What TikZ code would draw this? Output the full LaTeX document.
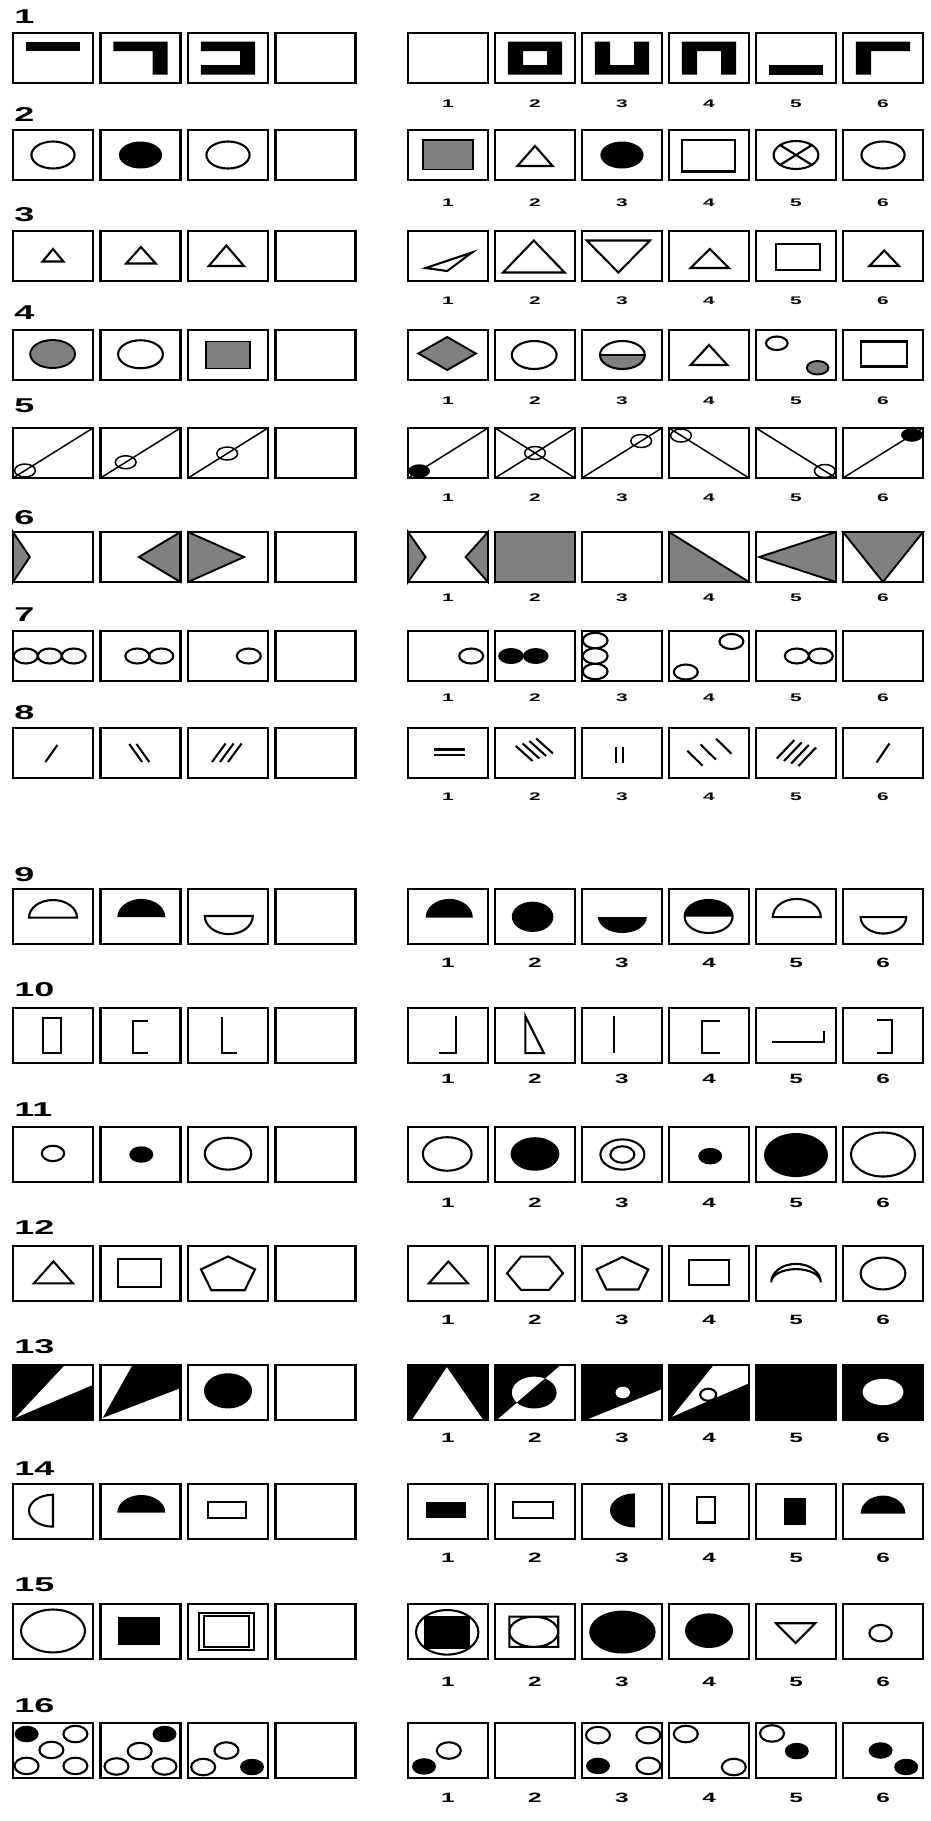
\documentclass[tikz,border=0pt]{standalone}
\usepackage{fontspec}
\setmainfont{Liberation Sans}
%one given box (column 1-4) and one answer box (column 1-6)
\newcommand{\gbox}[2]{%
  \begin{scope}[shift={({13+87.5*(#1-1)},\rowtop)},x=8pt,y=\rowunit]
    #2
    \draw[cellframe] (0,0) rectangle (10,10);
  \end{scope}}
\newcommand{\abox}[2]{%
  \begin{scope}[shift={({408+87*(#1-1)},\rowtop)},x=8pt,y=\rowunit]
    #2
    \draw[cellframe] (0,0) rectangle (10,10);
  \end{scope}}
\newcommand{\numrow}[3]{%
  \foreach \j in {1,...,6}
    \node[#3] (n#1-\j) at ({448+87*(\j-1)},#2) {\j};}
\begin{document}
\begin{tikzpicture}
    [x=1pt,y=-1pt,
     cellframe/.style={line width=2.5pt},
     outl/.style={line width=2.1pt},
     thn/.style={line width=1.5pt},
     gry/.style={fill=black!50,draw,line width=1.9pt},
     rowlab/.style={font=\bfseries\fontsize{20}{20}\selectfont,inner sep=0pt,anchor=west,xscale=1.8},
     num/.style={font=\bfseries\fontsize{11}{11}\selectfont,inner sep=0pt,xscale=1.9},
     numlow/.style={font=\bfseries\fontsize{13.5}{14}\selectfont,inner sep=0pt,xscale=1.8}]
    \useasboundingbox (0,0) rectangle (931,1821);
    %row 1
    \def\rowtop{33}\def\rowunit{-5pt}
    \node[rowlab] (r1) at (14,17) {1};
    \gbox{1}{\fill (1.6,1.7) rectangle (8.4,3.6);}
    \gbox{2}{\fill (1.6,1.7) -- (8.4,1.7) -- (8.4,8.3) -- (6.5,8.3) -- (6.5,3.6) -- (1.6,3.6) -- cycle;}
    \gbox{3}{\fill (1.6,1.7) -- (8.4,1.7) -- (8.4,8.3) -- (1.6,8.3) -- (1.6,6.4) -- (6.5,6.4) -- (6.5,3.6) -- (1.6,3.6) -- cycle;}
    \gbox{4}{}
    \abox{1}{}
    \abox{2}{\fill[even odd rule] (1.6,1.7) rectangle (8.4,8.3) (3.5,3.6) rectangle (6.5,6.4);}
    \abox{3}{\fill (1.6,1.7) -- (3.5,1.7) -- (3.5,6.4) -- (6.5,6.4) -- (6.5,1.7) -- (8.4,1.7) -- (8.4,8.3) -- (1.6,8.3) -- cycle;}
    \abox{4}{\fill (1.6,8.3) -- (1.6,1.7) -- (8.4,1.7) -- (8.4,8.3) -- (6.5,8.3) -- (6.5,3.6) -- (3.5,3.6) -- (3.5,8.3) -- cycle;}
    \abox{5}{\fill (1.6,6.4) rectangle (8.4,8.3);}
    \abox{6}{\fill (1.6,8.3) -- (1.6,1.7) -- (8.4,1.7) -- (8.4,3.6) -- (3.5,3.6) -- (3.5,8.3) -- cycle;}
    \numrow{1}{104}{num}
    %row 2
    \def\rowtop{130}
    \node[rowlab] (r2) at (14,115) {2};
    \gbox{1}{\draw[outl] (5,5) circle (2.7);}
    \gbox{2}{\fill (5,5) circle (2.7);}
    \gbox{3}{\draw[outl] (5,5) circle (2.7);}
    \gbox{4}{}
    \abox{1}{\filldraw[gry] (1.9,2) rectangle (8.1,7.9);}
    \abox{2}{\draw[outl] (2.8,7.2) -- (5,3.2) -- (7.2,7.2) -- cycle;}
    \abox{3}{\fill (5,5) circle (2.7);}
    \abox{4}{\draw[outl] (1.6,2) rectangle (8.3,8.3);}
    \abox{5}{\draw[outl] (5,5) circle (2.8) (3.02,3.02) -- (6.98,6.98) (3.02,6.98) -- (6.98,3.02);}
    \abox{6}{\draw[outl] (5,5) circle (2.7);}
    \numrow{2}{203}{num}
    %row 3
    \def\rowtop{231}
    \node[rowlab] (r3) at (14,215) {3};
    \gbox{1}{\draw[outl] (3.7,6.1) -- (5,3.6) -- (6.3,6.1) -- cycle;}
    \gbox{2}{\draw[outl] (3.2,6.5) -- (5.05,3.2) -- (6.9,6.5) -- cycle;}
    \gbox{3}{\draw[outl] (2.6,7) -- (4.8,2.9) -- (7,7) -- cycle;}
    \gbox{4}{}
    \abox{1}{\draw[outl] (2.2,7.4) -- (8,4.3) -- (4.9,8) -- cycle;}
    \abox{2}{\draw[outl] (1,8.3) -- (4.85,1.9) -- (8.7,8.3) -- cycle;}
    \abox{3}{\draw[outl] (0.6,1.9) -- (8.5,1.9) -- (4.55,8.3) -- cycle;}
    \abox{4}{\draw[outl] (2.7,7.4) -- (5.1,3.6) -- (7.5,7.4) -- cycle;}
    \abox{5}{\draw[outl] (2.5,2.6) rectangle (8,7.8);}
    \abox{6}{\draw[outl] (3.3,7) -- (5.15,3.9) -- (7,7) -- cycle;}
    \numrow{3}{301}{num}
    %row 4
    \def\rowtop{330}
    \node[rowlab] (r4) at (14,313) {4};
    \gbox{1}{\filldraw[gry] (4.95,4.8) circle (2.8);}
    \gbox{2}{\draw[outl] (5,4.85) circle (2.8);}
    \gbox{3}{\filldraw[gry] (2.2,2.3) rectangle (7.8,7.7);}
    \gbox{4}{}
    \abox{1}{\filldraw[gry] (1.3,4.7) -- (4.9,1.4) -- (8.5,4.7) -- (4.9,8) -- cycle;}
    \abox{2}{\draw[outl] (4.9,5) circle (2.8);}
    \abox{3}{\fill[black!50] (2.25,5) arc[start angle=180,end angle=0,radius=2.8] -- cycle;
      \draw[outl] (5.05,5) circle (2.8); \draw[line width=2.4pt] (2.25,5) -- (7.85,5);}
    \abox{4}{\draw[outl] (2.7,7) -- (5,3) -- (7.3,7) -- cycle;}
    \abox{5}{\draw[outl] (2.6,2.65) circle (1.35); \filldraw[gry] (7.7,7.55) circle (1.35);}
    \abox{6}{\draw[outl] (2.2,2.3) rectangle (8,7.3);}
    \numrow{4}{401}{num}
    %row 5
    \def\rowtop{428}
    \node[rowlab] (r5) at (14,406) {5};
    \gbox{1}{\draw[thn] (0,10) -- (10,0) (1.5,8.5) circle (1.3);}
    \gbox{2}{\draw[thn] (0,10) -- (10,0) (3.15,6.85) circle (1.3);}
    \gbox{3}{\draw[thn] (0,10) -- (10,0) (4.9,5.1) circle (1.3);}
    \gbox{4}{}
    \abox{1}{\draw[thn] (0,10) -- (10,0); \fill (1.4,8.6) circle (1.35);}
    \abox{2}{\draw[thn] (0,10) -- (10,0) (0,0) -- (10,10) (5,5) circle (1.3);}
    \abox{3}{\draw[thn] (0,10) -- (10,0) (7.4,2.6) circle (1.3);}
    \abox{4}{\draw[thn] (0,0) -- (10,10) (1.5,1.5) circle (1.3);}
    \abox{5}{\draw[thn] (0,0) -- (10,10) (8.6,8.6) circle (1.3);}
    \abox{6}{\draw[thn] (0,10) -- (10,0); \fill (8.6,1.4) circle (1.35);}
    \numrow{5}{498}{num}
    %row 6
    \def\rowtop{532}
    \node[rowlab] (r6) at (14,518) {6};
    \gbox{1}{\filldraw[gry] (0,0) -- (2.1,5) -- (0,10) -- cycle;}
    \gbox{2}{\filldraw[gry] (10,0) -- (4.8,5) -- (10,10) -- cycle;}
    \gbox{3}{\filldraw[gry] (0,0) -- (7,5) -- (0,10) -- cycle;}
    \gbox{4}{}
    \abox{1}{\filldraw[gry] (0,0) -- (2.2,5) -- (0,10) -- cycle (10,0) -- (7.2,5) -- (10,10) -- cycle;}
    \abox{2}{\filldraw[gry] (0,0) rectangle (10,10);}
    \abox{3}{}
    \abox{4}{\filldraw[gry] (0,0) -- (10,10) -- (0,10) -- cycle;}
    \abox{5}{\filldraw[gry] (10,0) -- (0.4,5) -- (10,10) -- cycle;}
    \abox{6}{\filldraw[gry] (0,0) -- (10,0) -- (5,10) -- cycle;}
    \numrow{6}{598}{num}
    %row 7
    \def\rowtop{631}
    \node[rowlab] (r7) at (14,615) {7};
    \gbox{1}{\draw[outl] (1.6,5) circle (1.5) (4.6,5) circle (1.5) (7.6,5) circle (1.5);}
    \gbox{2}{\draw[outl] (4.6,5) circle (1.5) (7.6,5) circle (1.5);}
    \gbox{3}{\draw[outl] (7.6,5) circle (1.5);}
    \gbox{4}{}
    \abox{1}{\draw[outl] (7.9,5) circle (1.5);}
    \abox{2}{\fill (2,5) circle (1.6) (5.1,5) circle (1.6);}
    \abox{3}{\draw[outl] (1.65,1.9) circle (1.55) (1.65,5) circle (1.55) (1.65,8.1) circle (1.55);}
    \abox{4}{\draw[outl] (7.8,2.1) circle (1.5) (2.1,8.2) circle (1.5);}
    \abox{5}{\draw[outl] (5.1,5) circle (1.5) (8.1,5) circle (1.5);}
    \abox{6}{}
    \numrow{7}{698}{num}
    %row 8
    \def\rowtop{728}
    \node[rowlab] (r8) at (14,713) {8};
    \gbox{1}{\draw[outl] (4.05,6.8) -- (5.55,3.4);}
    \gbox{2}{\draw[outl] (3.6,3.2) -- (5.2,6.8) (4.5,3.2) -- (6.1,6.8);}
    \gbox{3}{\draw[outl] (3,6.8) -- (4.7,3.1) (4,6.8) -- (5.7,3.1) (5,6.8) -- (6.7,3.1);}
    \gbox{4}{}
    \abox{1}{\draw[outl] (3.2,4.3) -- (7.1,4.3) (3.2,5.4) -- (7.1,5.4);}
    \abox{2}{\foreach \k in {0,...,3} \draw[outl] ({2.6+0.85*\k},{3.6-0.5*\k}) -- ++(2.1,3);}
    \abox{3}{\draw[outl] (4.3,3.8) -- (4.3,6.9) (5.15,3.8) -- (5.15,6.9);}
    \abox{4}{\draw[outl] (2.3,4.55) -- ++(1.9,3) (3.95,3.3) -- ++(1.9,3) (5.9,2.15) -- ++(1.9,3);}
    \abox{5}{\foreach \k in {0,...,3} \draw[outl] ({2.6+0.9*\k},{6.1+0.5*\k}) -- ++(2.2,-3.7);}
    \abox{6}{\draw[outl] (4.2,6.9) -- (5.8,3.1);}
    \numrow{8}{797}{num}
    %row 9
    \def\rowtop{889}\def\rowunit{-5.5pt}
    \node[rowlab] (r9) at (14,875) {9};
    \gbox{1}{\draw[outl] (2,5.2) arc[start angle=180,end angle=360,x radius=3,y radius=3.2] -- cycle;}
    \gbox{2}{\fill (2.1,5.1) arc[start angle=180,end angle=360,x radius=3,y radius=3.3] -- cycle;}
    \gbox{3}{\draw[outl] (2.1,4.9) arc[start angle=180,end angle=0,x radius=3,y radius=3.3] -- cycle;}
    \gbox{4}{}
    \abox{1}{\fill (2.2,5.2) arc[start angle=180,end angle=360,x radius=2.95,y radius=3.4] -- cycle;}
    \abox{2}{\fill (4.7,5.05) circle[x radius=2.6,y radius=2.75];}
    \abox{3}{\fill (2,5.1) arc[start angle=180,end angle=0,x radius=3.05,y radius=2.9] -- cycle;}
    \abox{4}{\fill (1.95,5) arc[start angle=180,end angle=360,radius=3] -- cycle; \draw[outl] (4.95,5) circle (3);}
    \abox{5}{\draw[outl] (2.1,5.1) arc[start angle=180,end angle=360,x radius=3,y radius=3.3] -- cycle;}
    \abox{6}{\draw[outl] (2.2,5.1) arc[start angle=180,end angle=0,x radius=2.85,y radius=3] -- cycle;}
    \numrow{9}{963}{numlow}
    %row 10
    \def\rowtop{1008}
    \node[rowlab] (r10) at (14,990) {10};
    \gbox{1}{\draw[outl] (3.8,1.8) rectangle (6,8.2);}
    \gbox{2}{\draw[outl] (5.9,2.4) -- (4.1,2.4) -- (4.1,8.2) -- (5.9,8.2);}
    \gbox{3}{\draw[outl] (4.2,1.6) -- (4.2,8.2) -- (6.1,8.2);}
    \gbox{4}{}
    \abox{1}{\draw[outl] (6,1.5) -- (6,8.2) -- (3.9,8.2);}
    \abox{2}{\draw[outl] (3.8,1.5) -- (3.8,8.2) -- (6.1,8.2) -- cycle;}
    \abox{3}{\draw[outl] (4,1.5) -- (4,8.2);}
    \abox{4}{\draw[outl] (6.4,2.4) -- (4.1,2.4) -- (4.1,8.2) -- (6.4,8.2);}
    \abox{5}{\draw[outl] (2,6.1) -- (8.5,6.1) -- (8.5,4.2);}
    \abox{6}{\draw[outl] (4.2,2.1) -- (6.1,2.1) -- (6.1,8.2) -- (4.2,8.2);}
    \numrow{10}{1079}{numlow}
    %row 11
    \def\rowtop{1127}
    \node[rowlab] (r11) at (14,1110) {11};
    \gbox{1}{\draw[outl] (5,4.8) circle (1.4);}
    \gbox{2}{\fill (5.1,5) circle (1.5);}
    \gbox{3}{\draw[outl] (5,4.85) circle (2.9);}
    \gbox{4}{}
    \abox{1}{\draw[outl] (4.9,4.9) circle (3.05);}
    \abox{2}{\fill (5,4.9) circle (3.05);}
    \abox{3}{\draw[outl] (5.05,5) circle (2.75) (5.05,5) circle (1.5);}
    \abox{4}{\fill (5.15,5.3) circle (1.5);}
    \abox{5}{\fill (5,5.1) circle (4);}
    \abox{6}{\draw[outl] (5,5) circle (4);}
    \numrow{11}{1203}{numlow}
    %row 12
    \def\rowtop{1246}
    \node[rowlab] (r12) at (14,1228) {12};
    \gbox{1}{\draw[outl] (2.6,6.8) -- (5.05,2.8) -- (7.5,6.8) -- cycle;}
    \gbox{2}{\draw[outl] (2.2,2.4) rectangle (7.6,7.4);}
    \gbox{3}{\draw[outl,shift={(5,5.3)}] (-90:3.55 and 3.4) -- (-18:3.55 and 3.4) -- (54:3.55 and 3.4) -- (126:3.55 and 3.4) -- (198:3.55 and 3.4) -- cycle;}
    \gbox{4}{}
    \abox{1}{\draw[outl] (2.6,6.8) -- (5.05,2.8) -- (7.5,6.8) -- cycle;}
    \abox{2}{\draw[outl,shift={(5,4.95)}] (0:3.5 and 3.5) -- (60:3.5 and 3.5) -- (120:3.5 and 3.5) -- (180:3.5 and 3.5) -- (240:3.5 and 3.5) -- (300:3.5 and 3.5) -- cycle;}
    \abox{3}{\draw[outl,shift={(5.05,5.26)}] (-90:3.4 and 3.26) -- (-18:3.4 and 3.26) -- (54:3.4 and 3.26) -- (126:3.4 and 3.26) -- (198:3.4 and 3.26) -- cycle;}
    \abox{4}{\draw[outl] (2.5,2.6) rectangle (7.5,7.1);}
    \abox{5}{\draw[outl] (1.9,6.6) arc[start angle=180,end angle=360,x radius=3.1,y radius=3.35] arc[start angle=0,end angle=-180,x radius=3.1,y radius=2.4] -- cycle;}
    \abox{6}{\draw[outl] (5,5) circle[x radius=2.8,y radius=2.9];}
    \numrow{12}{1320}{numlow}
    %row 13
    \def\rowtop{1365}
    \node[rowlab] (r13) at (14,1347) {13};
    \gbox{1}{\fill (0,0) rectangle (10,10); \fill[white] (0.3,9.6) -- (6.5,0) -- (10,0) -- (10,3.6) -- cycle;}
    \gbox{2}{\fill (0.3,9.6) -- (4,0) -- (10,0) -- (10,4.2) -- cycle;}
    \gbox{3}{\fill (5,4.7) circle[x radius=3,y radius=3.2];}
    \gbox{4}{}
    \abox{1}{\fill (0,0) rectangle (10,10); \fill[white] (4.85,0.4) -- (9.4,10) -- (0.5,10) -- cycle;}
    \abox{2}{\fill[even odd rule] (0,0) -- (8.2,0) -- (0.2,10) -- (0,10) -- cycle (4.9,5) circle[x radius=2.8,y radius=2.9];}
    \abox{3}{\fill (0,0) rectangle (10,10); \fill[white] (0.5,10) -- (10,4.4) -- (10,10) -- cycle (5.1,5) circle[x radius=0.9,y radius=1.05];}
    \abox{4}{\fill (0,0) rectangle (10,10); \fill[white] (0.4,9.4) -- (5.6,0) -- (10,0) -- (10,3.3) -- cycle;
      \filldraw[fill=white,outl] (4.9,5.4) circle[x radius=1,y radius=1.1];}
    \abox{5}{\fill (0,0) rectangle (10,10);}
    \abox{6}{\fill (0,0) rectangle (10,10); \fill[white] (5,4.9) circle[x radius=2.55,y radius=2.4];}
    \numrow{13}{1438}{numlow}
    %row 14
    \def\rowtop{1484}
    \node[rowlab] (r14) at (14,1469) {14};
    \gbox{1}{\draw[outl] (5,1.95) arc[start angle=270,end angle=90,x radius=3,y radius=2.9] -- cycle;}
    \gbox{2}{\fill (2.1,5.2) arc[start angle=180,end angle=360,x radius=3,y radius=3.2] -- cycle;}
    \gbox{3}{\draw[outl] (2.5,3.3) rectangle (7.2,6.1);}
    \gbox{4}{}
    \abox{1}{\fill (2.3,3.2) rectangle (7.3,6.1);}
    \abox{2}{\draw[outl] (2.3,3.3) rectangle (7.2,6.1);}
    \abox{3}{\fill (6.6,1.7) arc[start angle=270,end angle=90,x radius=3.1,y radius=3.1] -- cycle;}
    \abox{4}{\draw[outl] (3.5,2.4) rectangle (5.8,7);}
    \abox{5}{\fill (3.5,2.6) rectangle (6.3,7.4);}
    \abox{6}{\fill (2.2,5.4) arc[start angle=180,end angle=360,x radius=2.8,y radius=3.3] -- cycle;}
    \numrow{14}{1558}{numlow}
    %row 15
    \def\rowtop{1604}
    \node[rowlab] (r15) at (14,1585) {15};
    \gbox{1}{\draw[outl] (5,4.9) circle[x radius=4,y radius=3.9];}
    \gbox{2}{\fill (2.2,2.3) rectangle (7.4,7.4);}
    \gbox{3}{\draw[outl] (1.4,1.6) rectangle (8.2,8.4) (2,2.2) rectangle (7.6,7.8);}
    \gbox{4}{}
    \abox{1}{\draw[outl] (4.9,5.15) circle[x radius=3.9,y radius=4.05]; \fill (2,2.15) rectangle (7.8,8.15);}
    \abox{2}{\draw[outl] (1.8,2.3) rectangle (7.9,7.8) (4.85,5.05) circle[x radius=3.05,y radius=2.75];}
    \abox{3}{\fill (5.05,5.1) circle[x radius=4.15,y radius=3.9];}
    \abox{4}{\fill (5,4.85) circle[x radius=3,y radius=3.15];}
    \abox{5}{\draw[outl] (2.5,3.5) -- (7.4,3.5) -- (4.95,7.1) -- cycle;}
    \abox{6}{\draw[outl] (4.7,5.3) circle[x radius=1.4,y radius=1.5];}
    \numrow{15}{1682}{numlow}
    %row 16
    \def\rowtop{1723}
    \node[rowlab] (r16) at (14,1706) {16};
    \gbox{1}{\fill (1.7,2) circle (1.5); \draw[outl] (7.8,2) circle (1.5) (4.8,4.9) circle (1.5) (1.7,7.8) circle (1.5) (7.8,7.8) circle (1.5);}
    \gbox{2}{\fill (8,2) circle (1.5); \draw[outl] (4.9,5.1) circle (1.5) (2,7.9) circle (1.5) (8,7.9) circle (1.5);}
    \gbox{3}{\fill (8,8) circle (1.5); \draw[outl] (4.8,5) circle (1.5) (1.9,8) circle (1.5);}
    \gbox{4}{}
    \abox{1}{\fill (2,7.9) circle (1.5); \draw[outl] (5.1,5) circle (1.5);}
    \abox{2}{}
    \abox{3}{\fill (2,7.8) circle (1.5); \draw[outl] (2,2.2) circle (1.5) (8.3,2.2) circle (1.5) (8.3,7.8) circle (1.5);}
    \abox{4}{\draw[outl] (2.1,2) circle (1.5) (8.1,8) circle (1.5);}
    \abox{5}{\fill (5.1,5.1) circle (1.5); \draw[outl] (2,1.9) circle (1.5);}
    \abox{6}{\fill (4.7,5) circle (1.5) (7.9,8) circle (1.5);}
    \numrow{16}{1798}{numlow}
\end{tikzpicture}
\end{document}
